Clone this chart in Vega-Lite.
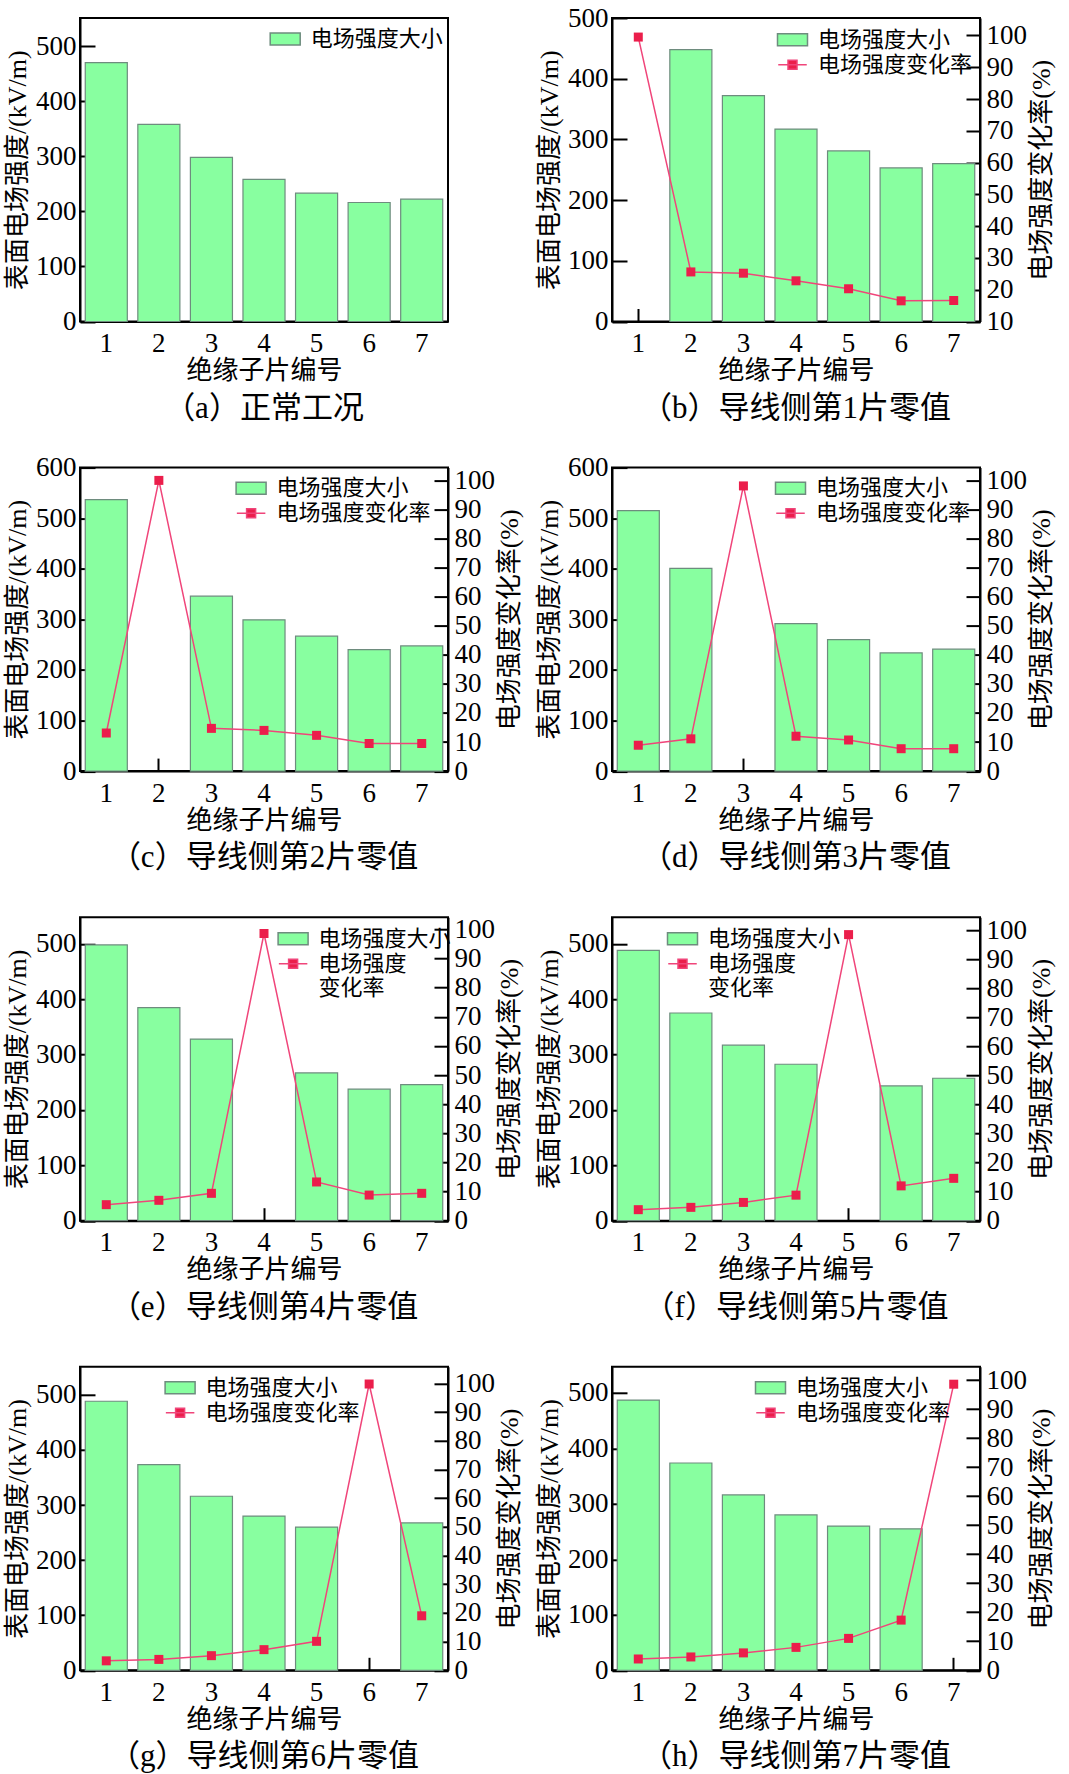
{
  "$schema": "https://vega.github.io/schema/vega-lite/v6.json",
  "padding": {"left": 3, "top": 3, "right": 0, "bottom": 0},
  "background": "white",
  "data": {"values": [
    {"p": "a", "n": 1, "E": 470, "R": null},
    {"p": "a", "n": 2, "E": 358, "R": null},
    {"p": "a", "n": 3, "E": 298, "R": null},
    {"p": "a", "n": 4, "E": 258, "R": null},
    {"p": "a", "n": 5, "E": 233, "R": null},
    {"p": "a", "n": 6, "E": 216, "R": null},
    {"p": "a", "n": 7, "E": 222, "R": null},
    {"p": "b", "n": 1, "E": null, "R": 99.5},
    {"p": "b", "n": 2, "E": 448, "R": 25.6},
    {"p": "b", "n": 3, "E": 372, "R": 25.2},
    {"p": "b", "n": 4, "E": 317, "R": 22.8},
    {"p": "b", "n": 5, "E": 281, "R": 20.3},
    {"p": "b", "n": 6, "E": 253, "R": 16.5},
    {"p": "b", "n": 7, "E": 260, "R": 16.6},
    {"p": "c", "n": 1, "E": 536.6, "R": 13.1},
    {"p": "c", "n": 2, "E": null, "R": 100},
    {"p": "c", "n": 3, "E": 345.9, "R": 14.7},
    {"p": "c", "n": 4, "E": 299, "R": 14.0},
    {"p": "c", "n": 5, "E": 266.7, "R": 12.3},
    {"p": "c", "n": 6, "E": 240.3, "R": 9.5},
    {"p": "c", "n": 7, "E": 247.5, "R": 9.5},
    {"p": "d", "n": 1, "E": 514.9, "R": 8.9},
    {"p": "d", "n": 2, "E": 400.7, "R": 11.1},
    {"p": "d", "n": 3, "E": null, "R": 98.1},
    {"p": "d", "n": 4, "E": 291.7, "R": 12.0},
    {"p": "d", "n": 5, "E": 260, "R": 10.7},
    {"p": "d", "n": 6, "E": 233.7, "R": 7.7},
    {"p": "d", "n": 7, "E": 241, "R": 7.7},
    {"p": "e", "n": 1, "E": 498, "R": 5.5},
    {"p": "e", "n": 2, "E": 384.6, "R": 7.0},
    {"p": "e", "n": 3, "E": 328, "R": 9.4},
    {"p": "e", "n": 4, "E": null, "R": 98.6},
    {"p": "e", "n": 5, "E": 266.8, "R": 13.3},
    {"p": "e", "n": 6, "E": 237.4, "R": 8.8},
    {"p": "e", "n": 7, "E": 245.8, "R": 9.4},
    {"p": "f", "n": 1, "E": 488, "R": 3.8},
    {"p": "f", "n": 2, "E": 375, "R": 4.6},
    {"p": "f", "n": 3, "E": 317, "R": 6.3},
    {"p": "f", "n": 4, "E": 282.5, "R": 8.8},
    {"p": "f", "n": 5, "E": null, "R": 98.6},
    {"p": "f", "n": 6, "E": 243.4, "R": 12.0},
    {"p": "f", "n": 7, "E": 257.2, "R": 14.6},
    {"p": "g", "n": 1, "E": 488.5, "R": 3.3},
    {"p": "g", "n": 2, "E": 373.5, "R": 3.8},
    {"p": "g", "n": 3, "E": 316, "R": 5.1},
    {"p": "g", "n": 4, "E": 280, "R": 7.2},
    {"p": "g", "n": 5, "E": 260, "R": 10.1},
    {"p": "g", "n": 6, "E": null, "R": 99.8},
    {"p": "g", "n": 7, "E": 267.6, "R": 19.0},
    {"p": "h", "n": 1, "E": 487, "R": 3.9},
    {"p": "h", "n": 2, "E": 373.6, "R": 4.6},
    {"p": "h", "n": 3, "E": 316, "R": 6.0},
    {"p": "h", "n": 4, "E": 280, "R": 7.9},
    {"p": "h", "n": 5, "E": 260, "R": 11.0},
    {"p": "h", "n": 6, "E": 255, "R": 17.3},
    {"p": "h", "n": 7, "E": null, "R": 98.6}
  ]},
  "columns": 2,
  "bounds": "flush",
  "spacing": {"row": 145.6, "column": 164},
  "resolve": {"scale": {"fill": "independent", "stroke": "independent"}},
  "concat": [
    {
      "width": 368, "height": 303.5,
      "transform": [{"filter": "datum.p === 'a'"}],
      "title": {"text": "（a）正常工况"},
      "encoding": {"x": {"field": "n", "type": "ordinal", "scale": {"paddingInner": 0.2, "paddingOuter": 0.1}, "axis": {"title": "绝缘子片编号"}}},
      "layer": [
        {"mark": {"type": "bar", "stroke": "#6E8C7E", "strokeWidth": 1.2},
         "encoding": {
           "y": {"field": "E", "type": "quantitative", "scale": {"domain": [0, 551], "nice": false}, "axis": {"values": [0, 100, 200, 300, 400, 500], "title": "表面电场强度/(kV/m)"}},
           "fill": {"datum": "电场强度大小", "type": "nominal", "scale": {"range": ["#88FFA0"]},
             "legend": {"title": null, "orient": "none", "legendX": 194.2, "legendY": 10, "symbolType": "M-2,-0.8H2V0.8H-2Z", "symbolSize": 225, "labelOffset": 14.5, "padding": 0,
               "encode": {"symbols": {"update": {"stroke": {"value": "black"}, "strokeWidth": {"value": 1.5}, "fill": {"value": "#88FFA0"}, "opacity": {"value": 1}}}}}}
         }}
      ]
    },
    {
      "width": 368, "height": 303.5,
      "transform": [{"filter": "datum.p === 'b'"}],
      "title": {"text": "（b）导线侧第1片零值"},
      "encoding": {"x": {"field": "n", "type": "ordinal", "scale": {"paddingInner": 0.2, "paddingOuter": 0.1}, "axis": {"title": "绝缘子片编号"}}},
      "layer": [
        {"mark": {"type": "bar", "stroke": "#6E8C7E", "strokeWidth": 1.2},
         "encoding": {
           "y": {"field": "E", "type": "quantitative", "scale": {"domain": [0, 500], "nice": false}, "axis": {"values": [0, 100, 200, 300, 400, 500], "title": "表面电场强度/(kV/m)"}},
           "fill": {"datum": "电场强度大小", "type": "nominal", "scale": {"range": ["#88FFA0"]},
             "legend": {"title": null, "orient": "none", "legendX": 169.5, "legendY": 10.7, "symbolType": "M-2,-0.8H2V0.8H-2Z", "symbolSize": 225, "labelOffset": 14.5, "padding": 0,
               "encode": {"symbols": {"update": {"stroke": {"value": "black"}, "strokeWidth": {"value": 1.5}, "fill": {"value": "#88FFA0"}, "opacity": {"value": 1}}}}}}
         }},
        {"encoding": {"y": {"field": "R", "type": "quantitative", "scale": {"domain": [10, 105.5], "nice": false, "zero": false}, "axis": {"orient": "right", "values": [10, 20, 30, 40, 50, 60, 70, 80, 90, 100], "title": "电场强度变化率(%)"}}},
         "layer": [
           {"mark": {"type": "line", "strokeWidth": 1.5},
            "encoding": {"stroke": {"datum": "电场强度变化率", "type": "nominal", "scale": {"range": ["#F0457A"]},
              "legend": {"title": null, "orient": "none", "legendX": 169.5, "legendY": 35.7, "symbolType": "M-1.9,0H1.9M-0.6,-0.6H0.6V0.6H-0.6Z", "symbolSize": 225, "labelOffset": 14.5, "padding": 0,
                "encode": {"symbols": {"update": {"stroke": {"value": "#F0457A"}, "strokeWidth": {"value": 1.5}, "fill": {"value": "#EB1E4B"}, "opacity": {"value": 1}}}}}}}},
           {"mark": {"type": "point", "shape": "square", "filled": true, "size": 81, "fill": "#EB1E4B", "strokeWidth": 0, "opacity": 1}}
         ]}
      ],
      "resolve": {"scale": {"y": "independent"}}
    },
    {
      "width": 368, "height": 303.5,
      "transform": [{"filter": "datum.p === 'c'"}],
      "title": {"text": "（c）导线侧第2片零值"},
      "encoding": {"x": {"field": "n", "type": "ordinal", "scale": {"paddingInner": 0.2, "paddingOuter": 0.1}, "axis": {"title": "绝缘子片编号"}}},
      "layer": [
        {"mark": {"type": "bar", "stroke": "#6E8C7E", "strokeWidth": 1.2},
         "encoding": {
           "y": {"field": "E", "type": "quantitative", "scale": {"domain": [0, 600], "nice": false}, "axis": {"values": [0, 100, 200, 300, 400, 500, 600], "title": "表面电场强度/(kV/m)"}},
           "fill": {"datum": "电场强度大小", "type": "nominal", "scale": {"range": ["#88FFA0"]},
             "legend": {"title": null, "orient": "none", "legendX": 160.1, "legendY": 9.6, "symbolType": "M-2,-0.8H2V0.8H-2Z", "symbolSize": 225, "labelOffset": 14.5, "padding": 0,
               "encode": {"symbols": {"update": {"stroke": {"value": "black"}, "strokeWidth": {"value": 1.5}, "fill": {"value": "#88FFA0"}, "opacity": {"value": 1}}}}}}
         }},
        {"encoding": {"y": {"field": "R", "type": "quantitative", "scale": {"domain": [0, 104.4], "nice": false, "zero": false}, "axis": {"orient": "right", "values": [0, 10, 20, 30, 40, 50, 60, 70, 80, 90, 100], "title": "电场强度变化率(%)"}}},
         "layer": [
           {"mark": {"type": "line", "strokeWidth": 1.5},
            "encoding": {"stroke": {"datum": "电场强度变化率", "type": "nominal", "scale": {"range": ["#F0457A"]},
              "legend": {"title": null, "orient": "none", "legendX": 160.1, "legendY": 34.6, "symbolType": "M-1.9,0H1.9M-0.6,-0.6H0.6V0.6H-0.6Z", "symbolSize": 225, "labelOffset": 14.5, "padding": 0,
                "encode": {"symbols": {"update": {"stroke": {"value": "#F0457A"}, "strokeWidth": {"value": 1.5}, "fill": {"value": "#EB1E4B"}, "opacity": {"value": 1}}}}}}}},
           {"mark": {"type": "point", "shape": "square", "filled": true, "size": 81, "fill": "#EB1E4B", "strokeWidth": 0, "opacity": 1}}
         ]}
      ],
      "resolve": {"scale": {"y": "independent"}}
    },
    {
      "width": 368, "height": 303.5,
      "transform": [{"filter": "datum.p === 'd'"}],
      "title": {"text": "（d）导线侧第3片零值"},
      "encoding": {"x": {"field": "n", "type": "ordinal", "scale": {"paddingInner": 0.2, "paddingOuter": 0.1}, "axis": {"title": "绝缘子片编号"}}},
      "layer": [
        {"mark": {"type": "bar", "stroke": "#6E8C7E", "strokeWidth": 1.2},
         "encoding": {
           "y": {"field": "E", "type": "quantitative", "scale": {"domain": [0, 600], "nice": false}, "axis": {"values": [0, 100, 200, 300, 400, 500, 600], "title": "表面电场强度/(kV/m)"}},
           "fill": {"datum": "电场强度大小", "type": "nominal", "scale": {"range": ["#88FFA0"]},
             "legend": {"title": null, "orient": "none", "legendX": 167.5, "legendY": 9.6, "symbolType": "M-2,-0.8H2V0.8H-2Z", "symbolSize": 225, "labelOffset": 14.5, "padding": 0,
               "encode": {"symbols": {"update": {"stroke": {"value": "black"}, "strokeWidth": {"value": 1.5}, "fill": {"value": "#88FFA0"}, "opacity": {"value": 1}}}}}}
         }},
        {"encoding": {"y": {"field": "R", "type": "quantitative", "scale": {"domain": [0, 104.4], "nice": false, "zero": false}, "axis": {"orient": "right", "values": [0, 10, 20, 30, 40, 50, 60, 70, 80, 90, 100], "title": "电场强度变化率(%)"}}},
         "layer": [
           {"mark": {"type": "line", "strokeWidth": 1.5},
            "encoding": {"stroke": {"datum": "电场强度变化率", "type": "nominal", "scale": {"range": ["#F0457A"]},
              "legend": {"title": null, "orient": "none", "legendX": 167.5, "legendY": 34.6, "symbolType": "M-1.9,0H1.9M-0.6,-0.6H0.6V0.6H-0.6Z", "symbolSize": 225, "labelOffset": 14.5, "padding": 0,
                "encode": {"symbols": {"update": {"stroke": {"value": "#F0457A"}, "strokeWidth": {"value": 1.5}, "fill": {"value": "#EB1E4B"}, "opacity": {"value": 1}}}}}}}},
           {"mark": {"type": "point", "shape": "square", "filled": true, "size": 81, "fill": "#EB1E4B", "strokeWidth": 0, "opacity": 1}}
         ]}
      ],
      "resolve": {"scale": {"y": "independent"}}
    },
    {
      "width": 368, "height": 303.5,
      "transform": [{"filter": "datum.p === 'e'"}],
      "title": {"text": "（e）导线侧第4片零值"},
      "encoding": {"x": {"field": "n", "type": "ordinal", "scale": {"paddingInner": 0.2, "paddingOuter": 0.1}, "axis": {"title": "绝缘子片编号"}}},
      "layer": [
        {"mark": {"type": "bar", "stroke": "#6E8C7E", "strokeWidth": 1.2},
         "encoding": {
           "y": {"field": "E", "type": "quantitative", "scale": {"domain": [0, 548], "nice": false}, "axis": {"values": [0, 100, 200, 300, 400, 500], "title": "表面电场强度/(kV/m)"}},
           "fill": {"datum": "电场强度大小", "type": "nominal", "scale": {"range": ["#88FFA0"]},
             "legend": {"title": null, "orient": "none", "legendX": 202.1, "legendY": 10.6, "symbolType": "M-2,-0.8H2V0.8H-2Z", "symbolSize": 225, "labelOffset": 14.5, "padding": 0,
               "encode": {"symbols": {"update": {"stroke": {"value": "black"}, "strokeWidth": {"value": 1.5}, "fill": {"value": "#88FFA0"}, "opacity": {"value": 1}}}}}}
         }},
        {"encoding": {"y": {"field": "R", "type": "quantitative", "scale": {"domain": [0, 104.2], "nice": false, "zero": false}, "axis": {"orient": "right", "values": [0, 10, 20, 30, 40, 50, 60, 70, 80, 90, 100], "title": "电场强度变化率(%)"}}},
         "layer": [
           {"mark": {"type": "line", "strokeWidth": 1.5},
            "encoding": {"stroke": {"datum": "电场强度变化率", "type": "nominal", "scale": {"range": ["#F0457A"]},
              "legend": {"title": null, "orient": "none", "legendX": 202.1, "legendY": 35.6, "symbolType": "M-1.9,0H1.9M-0.6,-0.6H0.6V0.6H-0.6Z", "symbolSize": 225, "labelOffset": 14.5, "padding": 0,
                "labelExpr": "['电场强度', '变化率']",
                "encode": {"symbols": {"update": {"stroke": {"value": "#F0457A"}, "strokeWidth": {"value": 1.5}, "fill": {"value": "#EB1E4B"}, "opacity": {"value": 1}}}}}}}},
           {"mark": {"type": "point", "shape": "square", "filled": true, "size": 81, "fill": "#EB1E4B", "strokeWidth": 0, "opacity": 1}}
         ]}
      ],
      "resolve": {"scale": {"y": "independent"}}
    },
    {
      "width": 368, "height": 303.5,
      "transform": [{"filter": "datum.p === 'f'"}],
      "title": {"text": "（f）导线侧第5片零值"},
      "encoding": {"x": {"field": "n", "type": "ordinal", "scale": {"paddingInner": 0.2, "paddingOuter": 0.1}, "axis": {"title": "绝缘子片编号"}}},
      "layer": [
        {"mark": {"type": "bar", "stroke": "#6E8C7E", "strokeWidth": 1.2},
         "encoding": {
           "y": {"field": "E", "type": "quantitative", "scale": {"domain": [0, 548], "nice": false}, "axis": {"values": [0, 100, 200, 300, 400, 500], "title": "表面电场强度/(kV/m)"}},
           "fill": {"datum": "电场强度大小", "type": "nominal", "scale": {"range": ["#88FFA0"]},
             "legend": {"title": null, "orient": "none", "legendX": 59.5, "legendY": 10.6, "symbolType": "M-2,-0.8H2V0.8H-2Z", "symbolSize": 225, "labelOffset": 14.5, "padding": 0,
               "encode": {"symbols": {"update": {"stroke": {"value": "black"}, "strokeWidth": {"value": 1.5}, "fill": {"value": "#88FFA0"}, "opacity": {"value": 1}}}}}}
         }},
        {"encoding": {"y": {"field": "R", "type": "quantitative", "scale": {"domain": [0, 104.6], "nice": false, "zero": false}, "axis": {"orient": "right", "values": [0, 10, 20, 30, 40, 50, 60, 70, 80, 90, 100], "title": "电场强度变化率(%)"}}},
         "layer": [
           {"mark": {"type": "line", "strokeWidth": 1.5},
            "encoding": {"stroke": {"datum": "电场强度变化率", "type": "nominal", "scale": {"range": ["#F0457A"]},
              "legend": {"title": null, "orient": "none", "legendX": 59.5, "legendY": 35.6, "symbolType": "M-1.9,0H1.9M-0.6,-0.6H0.6V0.6H-0.6Z", "symbolSize": 225, "labelOffset": 14.5, "padding": 0,
                "labelExpr": "['电场强度', '变化率']",
                "encode": {"symbols": {"update": {"stroke": {"value": "#F0457A"}, "strokeWidth": {"value": 1.5}, "fill": {"value": "#EB1E4B"}, "opacity": {"value": 1}}}}}}}},
           {"mark": {"type": "point", "shape": "square", "filled": true, "size": 81, "fill": "#EB1E4B", "strokeWidth": 0, "opacity": 1}}
         ]}
      ],
      "resolve": {"scale": {"y": "independent"}}
    },
    {
      "width": 368, "height": 303.5,
      "transform": [{"filter": "datum.p === 'g'"}],
      "title": {"text": "（g）导线侧第6片零值"},
      "encoding": {"x": {"field": "n", "type": "ordinal", "scale": {"paddingInner": 0.2, "paddingOuter": 0.1}, "axis": {"title": "绝缘子片编号"}}},
      "layer": [
        {"mark": {"type": "bar", "stroke": "#6E8C7E", "strokeWidth": 1.2},
         "encoding": {
           "y": {"field": "E", "type": "quantitative", "scale": {"domain": [0, 551], "nice": false}, "axis": {"values": [0, 100, 200, 300, 400, 500], "title": "表面电场强度/(kV/m)"}},
           "fill": {"datum": "电场强度大小", "type": "nominal", "scale": {"range": ["#88FFA0"]},
             "legend": {"title": null, "orient": "none", "legendX": 89.1, "legendY": 10, "symbolType": "M-2,-0.8H2V0.8H-2Z", "symbolSize": 225, "labelOffset": 14.5, "padding": 0,
               "encode": {"symbols": {"update": {"stroke": {"value": "black"}, "strokeWidth": {"value": 1.5}, "fill": {"value": "#88FFA0"}, "opacity": {"value": 1}}}}}}
         }},
        {"encoding": {"y": {"field": "R", "type": "quantitative", "scale": {"domain": [0, 105.8], "nice": false, "zero": false}, "axis": {"orient": "right", "values": [0, 10, 20, 30, 40, 50, 60, 70, 80, 90, 100], "title": "电场强度变化率(%)"}}},
         "layer": [
           {"mark": {"type": "line", "strokeWidth": 1.5},
            "encoding": {"stroke": {"datum": "电场强度变化率", "type": "nominal", "scale": {"range": ["#F0457A"]},
              "legend": {"title": null, "orient": "none", "legendX": 89.1, "legendY": 35, "symbolType": "M-1.9,0H1.9M-0.6,-0.6H0.6V0.6H-0.6Z", "symbolSize": 225, "labelOffset": 14.5, "padding": 0,
                "encode": {"symbols": {"update": {"stroke": {"value": "#F0457A"}, "strokeWidth": {"value": 1.5}, "fill": {"value": "#EB1E4B"}, "opacity": {"value": 1}}}}}}}},
           {"mark": {"type": "point", "shape": "square", "filled": true, "size": 81, "fill": "#EB1E4B", "strokeWidth": 0, "opacity": 1}}
         ]}
      ],
      "resolve": {"scale": {"y": "independent"}}
    },
    {
      "width": 368, "height": 303.5,
      "transform": [{"filter": "datum.p === 'h'"}],
      "title": {"text": "（h）导线侧第7片零值"},
      "encoding": {"x": {"field": "n", "type": "ordinal", "scale": {"paddingInner": 0.2, "paddingOuter": 0.1}, "axis": {"title": "绝缘子片编号"}}},
      "layer": [
        {"mark": {"type": "bar", "stroke": "#6E8C7E", "strokeWidth": 1.2},
         "encoding": {
           "y": {"field": "E", "type": "quantitative", "scale": {"domain": [0, 547], "nice": false}, "axis": {"values": [0, 100, 200, 300, 400, 500], "title": "表面电场强度/(kV/m)"}},
           "fill": {"datum": "电场强度大小", "type": "nominal", "scale": {"range": ["#88FFA0"]},
             "legend": {"title": null, "orient": "none", "legendX": 147.5, "legendY": 10, "symbolType": "M-2,-0.8H2V0.8H-2Z", "symbolSize": 225, "labelOffset": 14.5, "padding": 0,
               "encode": {"symbols": {"update": {"stroke": {"value": "black"}, "strokeWidth": {"value": 1.5}, "fill": {"value": "#88FFA0"}, "opacity": {"value": 1}}}}}}
         }},
        {"encoding": {"y": {"field": "R", "type": "quantitative", "scale": {"domain": [0, 104.6], "nice": false, "zero": false}, "axis": {"orient": "right", "values": [0, 10, 20, 30, 40, 50, 60, 70, 80, 90, 100], "title": "电场强度变化率(%)"}}},
         "layer": [
           {"mark": {"type": "line", "strokeWidth": 1.5},
            "encoding": {"stroke": {"datum": "电场强度变化率", "type": "nominal", "scale": {"range": ["#F0457A"]},
              "legend": {"title": null, "orient": "none", "legendX": 147.5, "legendY": 35, "symbolType": "M-1.9,0H1.9M-0.6,-0.6H0.6V0.6H-0.6Z", "symbolSize": 225, "labelOffset": 14.5, "padding": 0,
                "encode": {"symbols": {"update": {"stroke": {"value": "#F0457A"}, "strokeWidth": {"value": 1.5}, "fill": {"value": "#EB1E4B"}, "opacity": {"value": 1}}}}}}}},
           {"mark": {"type": "point", "shape": "square", "filled": true, "size": 81, "fill": "#EB1E4B", "strokeWidth": 0, "opacity": 1}}
         ]}
      ],
      "resolve": {"scale": {"y": "independent"}}
    }
  ],
  "config": {
    "view": {"stroke": "black", "strokeWidth": 2},
    "axis": {
      "labelFont": "Liberation Serif, Times New Roman, DejaVu Serif, serif", "labelFontSize": 27, "labelColor": "black",
      "titleFont": "Liberation Serif, Times New Roman, Noto Sans CJK SC, serif", "titleFontSize": 26, "titleFontWeight": "normal", "titleColor": "black",
      "tickColor": "black", "tickWidth": 2, "domainColor": "black", "domainWidth": 2, "grid": false, "zindex": 1
    },
    "axisX": {"tickSize": -13, "labelPadding": 22, "labelAngle": 0, "titlePadding": 1},
    "axisLeft": {"tickSize": -15, "labelPadding": 19, "titlePadding": 5},
    "axisRight": {"tickSize": -14, "labelPadding": 20, "titlePadding": 2, "titleAngle": 270, "titleBaseline": "top"},
    "legend": {"labelFont": "Noto Sans CJK SC", "labelFontSize": 22, "labelColor": "black", "labelLimit": 400, "rowPadding": 3},
    "title": {"font": "Liberation Serif, Times New Roman, Noto Sans CJK SC, serif", "fontSize": 31, "fontWeight": "normal", "color": "black", "orient": "bottom", "anchor": "middle", "frame": "group", "offset": 10}
  }
}
